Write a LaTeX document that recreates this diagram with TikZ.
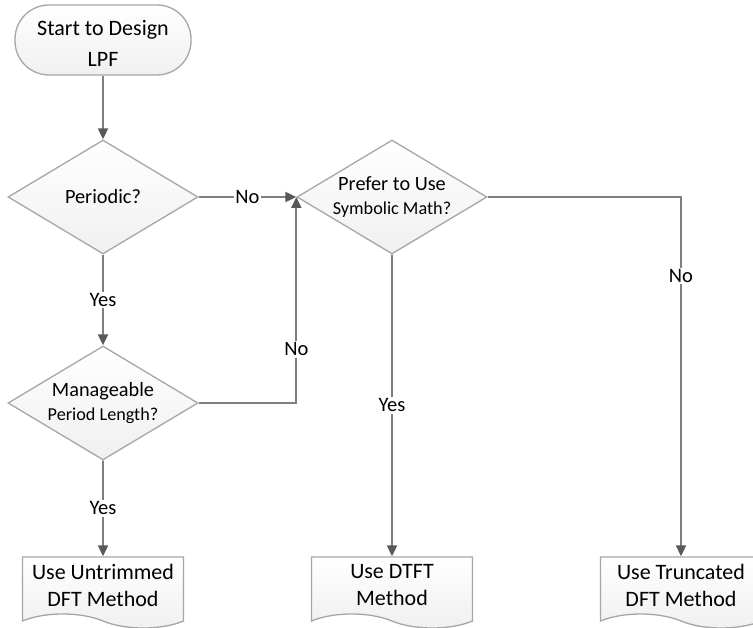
\documentclass[tikz,border=0pt]{standalone}
\usepackage{fontspec}
\setmainfont{Carlito}
\usetikzlibrary{shapes.geometric,shapes.symbols,arrows.meta}

\definecolor{linegray}{HTML}{7F7F7F}
\definecolor{tipgray}{HTML}{595959}
\definecolor{boxgray}{HTML}{A6A6A6}

\newcommand{\smalltext}{\fontsize{18.2}{22}\selectfont}

\tikzset{
  box/.style={draw=boxgray, line width=1.3pt, top color=white, bottom color=gray!12,
    font=\fontsize{20.3}{24}\selectfont, align=center},
  startbox/.style={box, rounded corners=34pt, minimum width=176pt, minimum height=70pt,
    font=\fontsize{22}{31}\selectfont},
  decision/.style={box, diamond, aspect=1.67, inner sep=0pt,
    minimum width=190pt, minimum height=114pt},
  docbox/.style={box, tape, tape bend top=none, tape bend bottom=out and in,
    tape bend height=14pt, minimum width=161pt, minimum height=71pt,
    font=\fontsize{22}{27}\selectfont},
  flow/.style={draw=linegray, line width=1.9pt,
    -{Triangle[length=11pt,width=10pt,color=tipgray]}},
  lbl/.style={fill=white, inner sep=1.5pt, font=\fontsize{20.5}{24}\selectfont}
}

\begin{document}
\begin{tikzpicture}[x=1pt, y=-1pt]
\useasboundingbox (0,0) rectangle (753,628);

% shapes
\node[startbox] (start) at (103,40) {\rule{0pt}{23pt}Start to Design\\LPF};
\node[decision] (periodic) at (103,197) {Periodic?};
\node[decision] (manage) at (103,403) {Manageable\\{\smalltext Period Length?}};
\node[decision] (prefer) at (392,197) {Prefer to Use\\{\smalltext Symbolic Math?}};
\node[docbox] (untrimmed) at (103,585.5) {Use Untrimmed\\DFT Method};
\node[docbox] (dtft) at (392,585.5) {Use DTFT\\Method};
\node[docbox] (truncated) at (681,585.5) {Use Truncated\\DFT Method};

% connectors
\draw[flow] (start) -- (periodic);
\draw[flow] (periodic) -- node[lbl] {Yes} (manage);
\draw[flow] (manage) -- node[lbl] {Yes} (untrimmed);
\draw[flow] (periodic.east) -- node[lbl] {No} (prefer.west);
\draw[flow] (manage.east) -| node[lbl, pos=0.63] {No} (prefer.west);
\draw[flow] (prefer) -- node[lbl] {Yes} (dtft);
\draw[flow] (prefer.east) -| node[lbl, pos=0.61] {No} (truncated);
\end{tikzpicture}
\end{document}
